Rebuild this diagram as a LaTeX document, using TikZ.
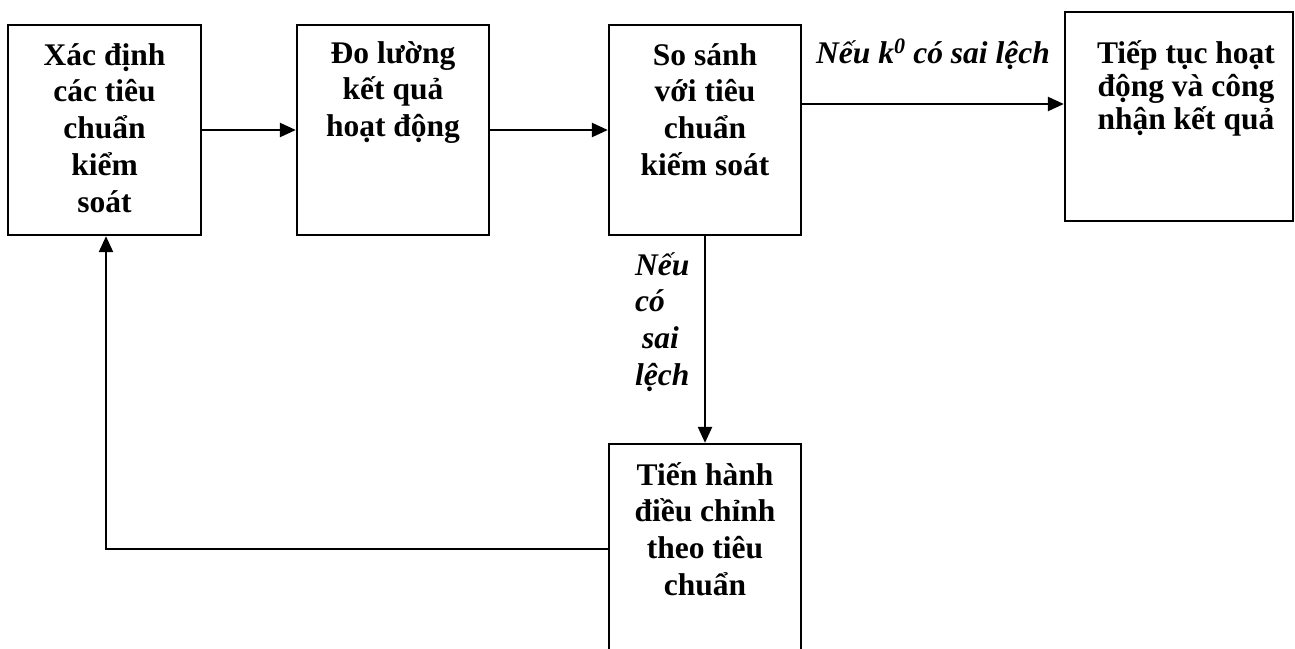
\documentclass[tikz,border=0pt]{standalone}
\usepackage{fontspec}
\setmainfont{Liberation Serif}
\usetikzlibrary{arrows.meta,calc}
\begin{document}
\begin{tikzpicture}[x=1pt,y=-1pt,
  box/.style={draw,line width=2.3pt,rectangle,inner sep=0pt},
  txt/.style={inner sep=0pt,align=center,anchor=north,font=\fontsize{31.5pt}{36.7pt}\selectfont\bfseries},
  lbl/.style={inner sep=0pt,font=\fontsize{31.5pt}{36.7pt}\selectfont\bfseries\itshape},
  arr/.style={line width=2.3pt,-{Triangle[length=16pt,width=14pt]}}]
\useasboundingbox (0,0) rectangle (1295,648);
% boxes
\node[box,minimum width=193pt,minimum height=210pt] (b1) at (104.5,130) {};
\node[box,minimum width=192pt,minimum height=210pt] (b2) at (393,130) {};
\node[box,minimum width=192pt,minimum height=210pt] (b3) at (705,130) {};
\node[box,minimum width=228pt,minimum height=209pt] (b4) at (1179,116.5) {};
\node[box,minimum width=192pt,minimum height=210pt] (b5) at (705,549) {};
% texts
\node[txt] (t1) at (104.5,25) {\rule{0pt}{40pt}Xác định\\các tiêu\\chuẩn\\kiểm\\soát};
\node[txt] (t2) at (393,25) {\rule{0pt}{38pt}Đo lường\\kết quả\\hoạt động};
\node[txt] (t3) at (705,25) {\rule{0pt}{40pt}So sánh\\với tiêu\\chuẩn\\kiếm soát};
\node[txt,font=\fontsize{31.5pt}{33pt}\selectfont\bfseries] (t4) at (1186,12) {\rule{0pt}{51pt}Tiếp tục hoạt\\động và công\\nhận kết quả};
\node[txt] (t5) at (705,444) {\rule{0pt}{41pt}Tiến hành\\điều chỉnh\\theo tiêu\\chuẩn};
% labels
\node[lbl,anchor=base] (l1) at (933,63) {Nếu k\textsuperscript{0} có sai lệch};
\node[lbl,anchor=north west,align=left] (l2) at (635,243) {\rule{0pt}{32pt}Nếu\\có\\\hspace{7pt}sai\\lệch};
% connectors
\draw[arr] (b1.east) -- (b2.west);
\draw[arr] (b2.east) -- (b3.west);
\draw[arr] ([yshift=26pt]b3.east) -- ([yshift=26pt]b3.east -| b4.west);
\draw[arr] (b3.south) -- (b5.north);
\draw[arr] (b5.west) -| ([xshift=1.5pt]b1.south);
\end{tikzpicture}
\end{document}
